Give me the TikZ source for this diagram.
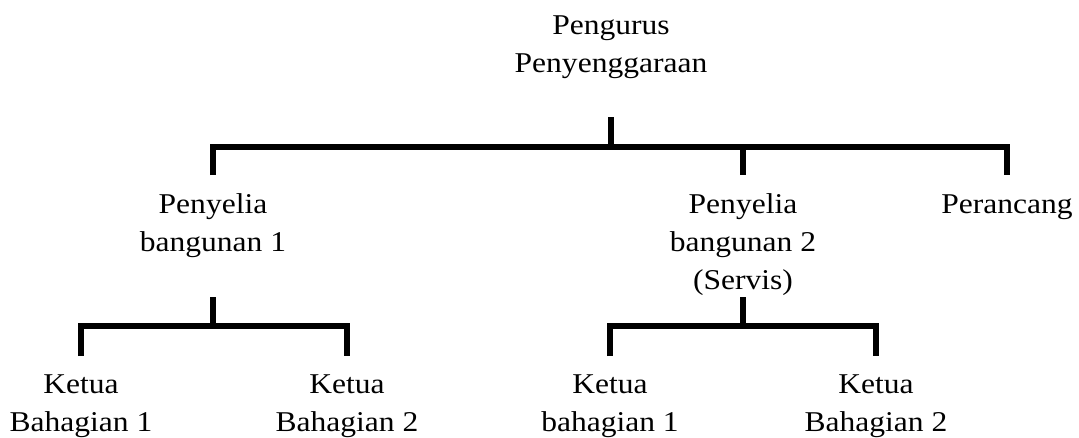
\documentclass[tikz,border=0pt]{standalone}
\usepackage{fontspec}
\setmainfont[FakeStretch=1.1]{Liberation Serif}
\usepackage{tikz}
\usetikzlibrary{positioning}

\begin{document}
\begin{tikzpicture}[x=0.75pt,y=-0.75pt,
  post/.style={anchor=north,align=center,inner sep=0pt,font=\fontsize{21.5}{28.5}\selectfont},
  link/.style={line width=4.5pt,line cap=butt,line join=miter}]
\useasboundingbox (0,0) rectangle (1079,437);
% jawatan
\node[post] (urus) at (611,15) {Pengurus\\Penyenggaraan};
\node[post] (sel1) at (213,193) {Penyelia\\bangunan 1};
\node[post] (sel2) at (743,193) {Penyelia\\bangunan 2\\(Servis)};
\node[post] (ranc) at (1007,194) {Perancang};
\node[post] (k11) at (81,374) {Ketua\\Bahagian 1};
\node[post] (k12) at (347,374) {Ketua\\Bahagian 2};
\node[post] (k21) at (610,374) {Ketua\\bahagian 1};
\node[post] (k22) at (876,374) {Ketua\\Bahagian 2};
% titik sambungan
\coordinate (s0) at (611,117);
\coordinate (s1) at (213,297);
\coordinate (s2) at (743,297);
\coordinate (bar0) at (611,147);
\coordinate (bar1) at (213,326);
\coordinate (bar2) at (743,326);
\coordinate (d0) at (0,175);
\coordinate (d1) at (0,356);
% garis
\draw[link] (s0) -- (bar0);
\draw[link] (sel1 |- d0) -- (sel1 |- bar0) -- (ranc |- bar0) -- (ranc |- d0);
\draw[link] (sel2 |- bar0) -- (sel2 |- d0);
\draw[link] (s1) -- (bar1);
\draw[link] (k11 |- d1) -- (k11 |- bar1) -- (k12 |- bar1) -- (k12 |- d1);
\draw[link] (s2) -- (bar2);
\draw[link] (k21 |- d1) -- (k21 |- bar2) -- (k22 |- bar2) -- (k22 |- d1);
\end{tikzpicture}
\end{document}
